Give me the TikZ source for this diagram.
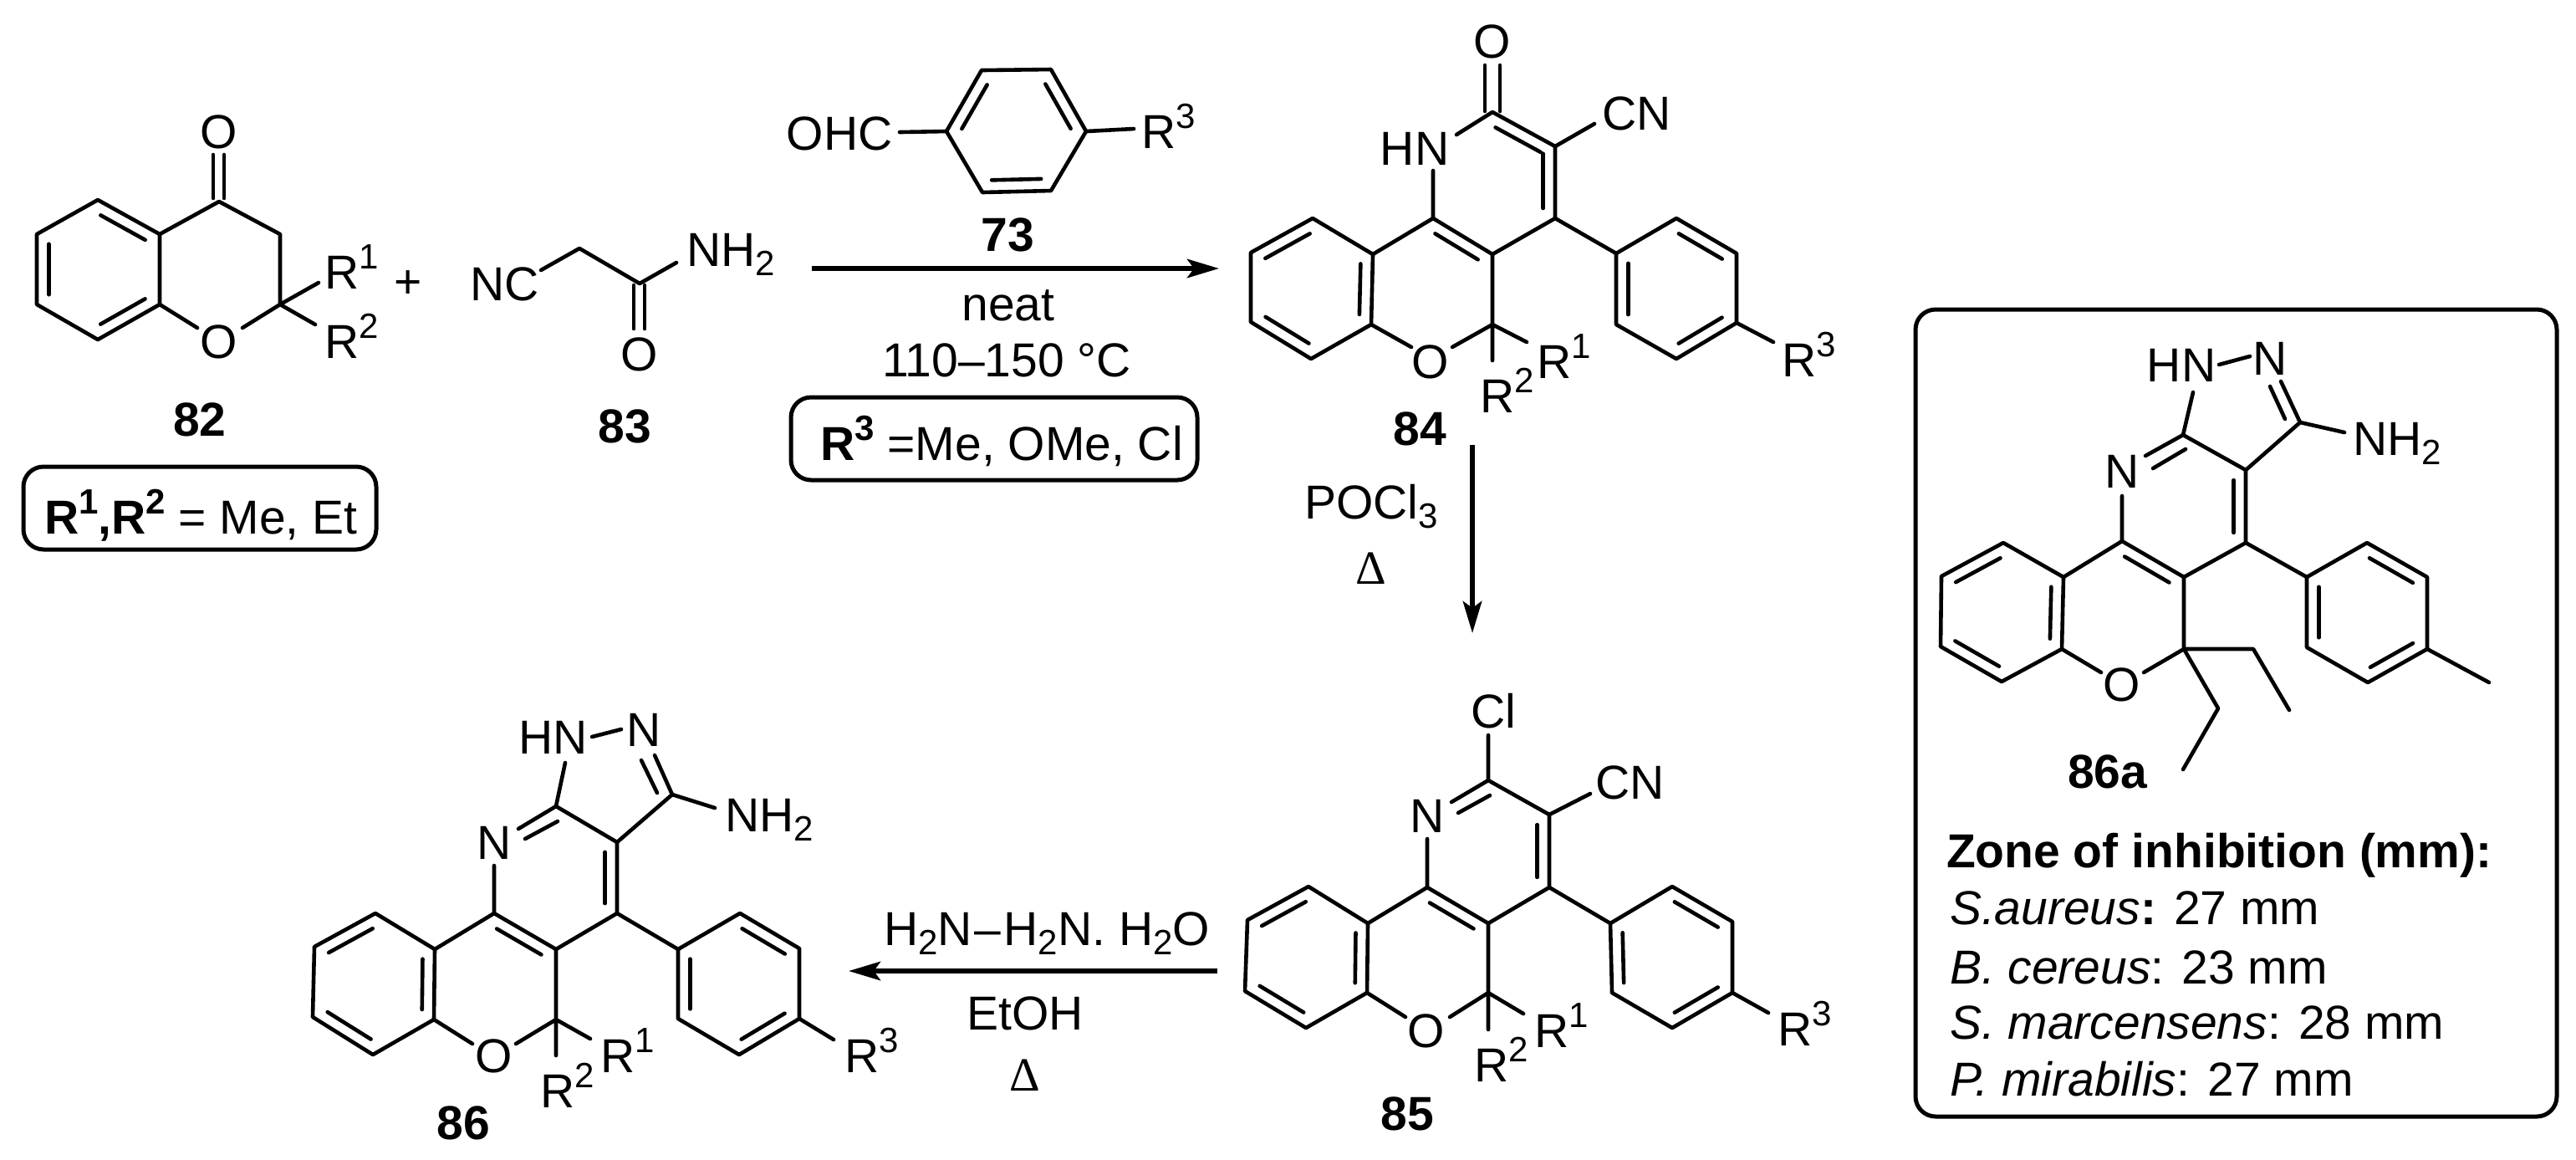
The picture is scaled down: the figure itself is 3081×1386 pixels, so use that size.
\documentclass[tikz,border=0pt]{standalone}
\usepackage{fontspec}
\setmainfont{Liberation Sans}
\newfontfamily\dfont{Liberation Serif}
\usetikzlibrary{calc,arrows.meta}
\newcommand\Su[1]{\raisebox{6pt}{\fontsize{10.5}{12}\selectfont #1}}
\newcommand\Sb[1]{\raisebox{-2.9pt}{\fontsize{10.5}{12}\selectfont #1}}
% inner line of a double bond, on the right of a -> b
\newcommand\ib[2]{\draw[bond] ($(#1)!.14!(#2)!3.6pt!270:(#2)$) -- ($(#2)!.14!(#1)!3.6pt!90:(#1)$);}
% aromatic six-ring: prefix, then six corners clockwise; double bonds 1-2, 3-4, 5-6
\newcommand\hexa[7]{%
  \coordinate (#1a) at (#2); \coordinate (#1b) at (#3); \coordinate (#1c) at (#4);
  \coordinate (#1d) at (#5); \coordinate (#1e) at (#6); \coordinate (#1f) at (#7);
  \draw[bond] (#1a) -- (#1b) -- (#1c) -- (#1d) -- (#1e) -- (#1f) -- cycle;
  \ib{#1a}{#1b}\ib{#1c}{#1d}\ib{#1e}{#1f}}
\newcommand\lab[4]{\node[lbl] (#1) at (#2,#3) {#4};}
\newcommand\labw[4]{\node[lbl,anchor=base west] (#1) at (#2,#3) {#4};}
\tikzset{
  bond/.style={line width=1.15pt,line cap=round,line join=round},
  rxn/.style={line width=1.45pt,-{Stealth[length=9.5pt,width=5.6pt,inset=2pt]}},
  box/.style={line width=1.25pt,rounded corners=6pt},
  lbl/.style={inner sep=0pt,outer sep=0pt,anchor=base,font=\fontsize{14.25}{17}\selectfont},
}
\begin{document}
\begin{tikzpicture}[x=0.25pt,y=-0.25pt]
\useasboundingbox (0,0) rectangle (3081,1386);
% ---------- 82
\hexa{A}{117,239}{191,280}{191,364}{117,406}{44,364}{44,280}
\path (262,241) coordinate (A4) (335,280) coordinate (A3) (335,364) coordinate (A2)
      (236,392) coordinate (AO1) (290,392) coordinate (AO2)
      (381,338) coordinate (AR1) (377,388) coordinate (AR2);
\draw[bond] (Ab) -- (A4) -- (A3) -- (A2) -- (AO2) (Ac) -- (AO1) (A2) -- (AR1) (A2) -- (AR2);
\draw[bond] (255,185) -- (255,237) (268,185) -- (268,237);
\lab{a1}{262}{177}{O}
\lab{a2}{262}{428}{O}
\labw{a3}{388}{345}{R\Su{1}}
\labw{a4}{388}{428}{R\Su{2}}
\lab{a5}{239}{521}{\textbf{82}}
\draw[box] (28,558) rectangle (450,657);
\labw{a6}{53}{638}{\textbf{R\Su{1},R\Su{2}} = Me, Et}
\lab{plus}{488}{356}{+}
% ---------- 83
\path (647,323) coordinate (B1) (693,297) coordinate (B2) (765,339) coordinate (B3) (809,314) coordinate (B4);
\draw[bond] (B1) -- (B2) -- (B3) -- (B4);
\draw[bond] (758,341) -- (758,393) (771,341) -- (771,393);
\labw{b1}{562}{359}{NC}
\labw{b2}{821}{318}{NH\Sb{2}}
\lab{b3}{765}{443}{O}
\lab{b4}{747}{529}{\textbf{83}}
% ---------- 73
\hexa{C}{1132,157}{1174,84}{1257,83}{1299,157}{1257,228}{1175,230}
\path (1076,158) coordinate (C1) (1356,154) coordinate (C2);
\draw[bond] (C1) -- (Ca) (Cd) -- (C2);
\lab{c1}{1004}{179}{OHC}
\labw{c2}{1365}{177}{R\Su{3}}
\lab{c3}{1205}{300}{\textbf{73}}
% arrow 1
\coordinate (r1s) at (971,321); \coordinate (r1e) at (1458,321);
\draw[rxn] (r1s) -- (r1e);
\lab{c4}{1206}{383}{neat}
\lab{c5}{1204}{450}{110–150 °C}
\draw[box] (946,475) rectangle (1432,574);
\lab{c6}{1198}{550}{\textbf{R\Su{3}} =Me, OMe, Cl}
% ---------- 84
\hexa{D}{1496,302}{1570,261}{1642,304}{1640,388}{1568,429}{1496,385}
\hexa{E}{2005,261}{2077,303}{2077,386}{2005,429}{1933,388}{1933,303}
\path (1714,261) coordinate (D1) (1785,304) coordinate (D2) (1860,261) coordinate (D3)
      (1860,175) coordinate (D4) (1785,134) coordinate (D5) (1785,388) coordinate (D6);
\draw[bond] (Dc) -- (D1) -- (D2) -- (D3) -- (D4) -- (D5) -- (1742,161);
\draw[bond] (D1) -- (1714,204) (D4) -- (1907,148) (D3) -- (Ef) (D2) -- (D6);
\draw[bond] (Dd) -- (1688,415) (D6) -- (1737,415) (D6) -- (1826,409) (D6) -- (1785,431) (Ec) -- (2121,409);
\draw[bond] (1776,78) -- (1776,133) (1794,78) -- (1794,133);
\ib{D1}{D2}\ib{D5}{D4}
\draw[bond] ($(D4)!.1!(D3)!3.6pt!270:(D3)$) -- ($(D3)!.14!(D4)!3.6pt!90:(D4)$);
\lab{d1}{1785}{69}{O}
\labw{d2}{1916}{155}{CN}
\lab{d3}{1692}{197}{HN}
\lab{d4}{1711}{452}{O}
\labw{d5}{1838}{452}{R\Su{1}}
\labw{d6}{1770}{493}{R\Su{2}}
\labw{d7}{2131}{450}{R\Su{3}}
\lab{d8}{1698}{532}{\textbf{84}}
% arrow 2
\coordinate (r2s) at (1761,532); \coordinate (r2e) at (1761,757);
\draw[rxn] (r2s) -- (r2e);
\lab{d9}{1640}{620}{POCl\Sb{3}}
\node[lbl,font=\fontsize{14.25}{17}\dfont] (d10) at (1640,698) {Δ};
% ---------- 85
\hexa{F}{1492,1100}{1565,1060}{1636,1104}{1635,1187}{1562,1229}{1489,1185}
\hexa{G}{2000,1060}{2072,1102}{2072,1187}{2000,1229}{1928,1187}{1926,1104}
\path (1707,1061) coordinate (F1) (1780,1104) coordinate (F2) (1853,1061) coordinate (F3)
      (1853,974) coordinate (F4) (1780,933) coordinate (F5) (1780,1187) coordinate (F6);
\draw[bond] (Fc) -- (F1) -- (F2) -- (F3) -- (F4) -- (F5) -- (1736,959);
\draw[bond] (F1) -- (1707,1003) (F5) -- (1780,879) (F4) -- (1902,949) (F3) -- (Gf) (F2) -- (F6);
\draw[bond] (Fd) -- (1681,1216) (F6) -- (1734,1216) (F6) -- (1822,1212) (F6) -- (1780,1231) (Gc) -- (2115,1211);
\draw[bond] (1744,972) -- (1782,951);
\ib{F1}{F2}\ib{F4}{F3}
\lab{f1}{1786}{870}{Cl}
\labw{f2}{1908}{955}{CN}
\lab{f3}{1707}{995}{N}
\lab{f4}{1706}{1252}{O}
\labw{f5}{1835}{1252}{R\Su{1}}
\labw{f6}{1763}{1293}{R\Su{2}}
\labw{f7}{2126}{1250}{R\Su{3}}
\lab{f8}{1683}{1351}{\textbf{85}}
% arrow 3
\coordinate (r3s) at (1456,1161); \coordinate (r3e) at (1015,1161);
\draw[rxn] (r3s) -- (r3e);
\lab{f9}{1252}{1130}{H\Sb{2}N\kern.8pt–\kern.8pt H\Sb{2}N. H\Sb{2}O}
\lab{f10}{1226}{1231}{EtOH}
\node[lbl,font=\fontsize{14.25}{17}\dfont] (f11) at (1226,1304) {Δ};
% ---------- 86
\hexa{H}{376,1132}{449,1092}{520,1135}{519,1219}{446,1261}{374,1216}
\hexa{I}{885,1092}{956,1134}{956,1218}{884,1261}{811,1218}{811,1135}
\path (591,1092) coordinate (H1) (665,1135) coordinate (H2) (738,1092) coordinate (H3)
      (738,1007) coordinate (H4) (665,964) coordinate (H5) (804,950) coordinate (H7) (665,1219) coordinate (H6);
\draw[bond] (Hc) -- (H1) -- (H2) -- (H3) -- (H4) -- (H5) -- (620,991);
\draw[bond] (H1) -- (591,1035) (H5) -- (676,912) (708,881) -- (743,872) (H4) -- (H7) -- (783,903) (H7) -- (855,966);
\draw[bond] (H3) -- (If) (H2) -- (H6) (Hd) -- (565,1248) (H6) -- (617,1248) (H6) -- (706,1242) (H6) -- (665,1262) (Ic) -- (997,1243);
\draw[bond] (628,1003) -- (667,982) (767,909) -- (786,948);
\ib{H1}{H2}\ib{H4}{H3}
\lab{h1}{662}{901}{HN}
\lab{h2}{770}{892}{N}
\labw{h3}{867}{994}{NH\Sb{2}}
\lab{h4}{591}{1027}{N}
\lab{h5}{591}{1282}{O}
\labw{h6}{718}{1282}{R\Su{1}}
\labw{h7}{646}{1324}{R\Su{2}}
\labw{h8}{1010}{1282}{R\Su{3}}
\lab{h9}{554}{1362}{\textbf{86}}
% ---------- 86a box
\draw[box] (2291,370) rectangle (3058,1335);
\hexa{J}{2322,689}{2396,649}{2468,690}{2466,776}{2394,815}{2321,773}
\hexa{K}{2831,649}{2903,690}{2903,776}{2832,816}{2759,774}{2759,690}
\path (2538,647) coordinate (J1) (2612,690) coordinate (J2) (2686,649) coordinate (J3)
      (2686,562) coordinate (J4) (2611,520) coordinate (J5) (2751,505) coordinate (J7) (2612,776) coordinate (J6);
\draw[bond] (Jc) -- (J1) -- (J2) -- (J3) -- (J4) -- (J5) -- (2566,545);
\draw[bond] (J1) -- (2538,593) (J5) -- (2623,469) (2654,436) -- (2691,426) (J4) -- (J7) -- (2728,456) (J7) -- (2804,517);
\draw[bond] (J3) -- (Kf) (J2) -- (J6) (Jd) -- (2513,804) (J6) -- (2564,804);
\draw[bond] (J6) -- (2695,776) -- (2738,849) (J6) -- (2653,847) -- (2611,920) (Kc) -- (2977,816);
\draw[bond] (2575,560) -- (2614,537) (2715,462) -- (2733,501);
\ib{J1}{J2}\ib{J4}{J3}
\lab{j1}{2609}{456}{HN}
\lab{j2}{2715}{448}{N}
\labw{j3}{2814}{544}{NH\Sb{2}}
\lab{j4}{2538}{583}{N}
\lab{j5}{2538}{838}{O}
\lab{j6}{2521}{942}{\textbf{86a}}
\labw{j7}{2328}{1037}{\textbf{Zone of inhibition (mm):}}
\labw{j8}{2332}{1105}{\textit{S.aureus}\textbf{:} 27 mm}
\labw{j9}{2332}{1176}{\textit{B. cereus}: 23 mm}
\labw{j10}{2332}{1242}{\textit{S. marcensens}: 28 mm}
\labw{j11}{2332}{1310}{\textit{P. mirabilis}: 27 mm}
\end{tikzpicture}
\end{document}
